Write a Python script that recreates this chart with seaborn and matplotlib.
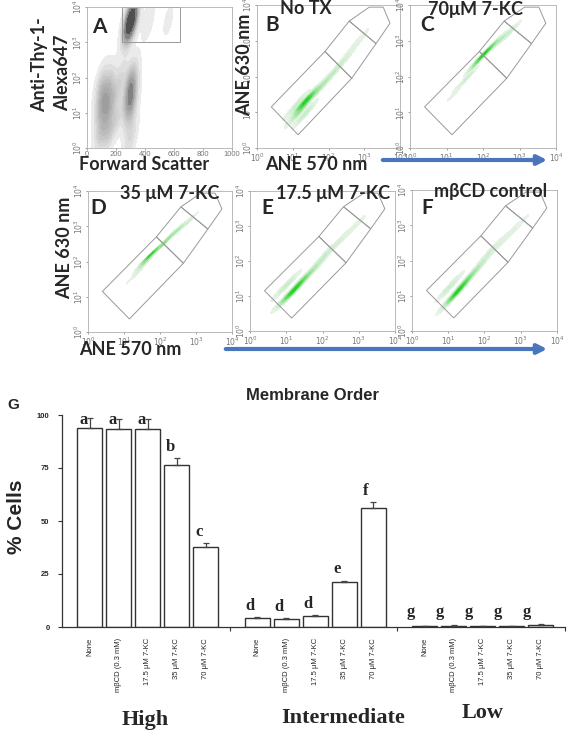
import numpy as np
import pandas as pd
import matplotlib
matplotlib.use('Agg')
import matplotlib.pyplot as plt
import seaborn as sns
from matplotlib.patches import Polygon, Rectangle, FancyArrowPatch
from matplotlib.ticker import FixedLocator, NullLocator

W, H = 567, 730

# ---- bar chart (panel G) ----
groups = ['High', 'Intermediate', 'Low']
treatments = ['None', 'mβCD (0.3 mM)', '17.5 μM 7-KC', '35 μM 7-KC', '70 μM 7-KC']
high_mean = [94.0, 93.5, 93.5, 76.2, 37.9]
high_err = [4.4, 4.6, 4.6, 3.5, 1.6]
inter_mean = [4.4, 3.8, 5.2, 21.1, 56.3]
inter_err = [0.4, 0.4, 0.3, 0.8, 2.5]
low_mean = [0.3, 0.7, 0.3, 0.4, 1.0]
low_err = [0.1, 0.2, 0.1, 0.1, 0.3]
high_letters = ['a', 'a', 'a', 'b', 'c']
inter_letters = ['d', 'd', 'd', 'e', 'f']
low_letters = ['g', 'g', 'g', 'g', 'g']

# ---- flow panels: hand-read event clusters (ANE 570, ANE 630, weight) ----
notx_x = [20, 16, 28, 13, 22, 35, 50, 70, 100, 150, 200, 300, 400, 600, 800]
notx_y = [18, 11, 25, 16, 9, 30, 40, 60, 90, 140, 200, 320, 500, 800, 1250]
notx_w = [10, 6, 5, 3, 3, 2.5, 2, 1.6, 1.4, 1.2, 1, 0.8, 0.6, 0.5, 0.4]

kc70_x = [89, 126, 63, 160, 200, 280, 355, 500, 631, 40, 25, 16]
kc70_y = [355, 501, 224, 630, 794, 1000, 1259, 1600, 1995, 100, 63, 32]
kc70_w = [10, 6, 5, 4, 3, 2.5, 2, 1.5, 1, 2, 1, 0.5]

kc35_x = [50, 40, 71, 100, 126, 160, 200, 280, 355, 500, 631, 32, 20]
kc35_y = [141, 100, 200, 250, 316, 420, 562, 700, 891, 1100, 1413, 71, 40]
kc35_w = [10, 6, 5, 3, 3, 3, 3, 2.5, 2, 1.5, 1, 2, 1]

kc17_x = [16, 11, 22, 10, 28, 40, 60, 79, 110, 158, 250, 398, 600, 891]
kc17_y = [14, 10, 22, 20, 28, 40, 60, 89, 140, 200, 320, 501, 750, 1122]
kc17_w = [10, 5, 5, 3, 3, 2, 1.8, 1.5, 1.2, 1, 0.8, 0.6, 0.5, 0.4]

mbcd_x = [18, 13, 25, 11, 30, 40, 60, 79, 110, 158, 250, 398, 600, 1000]
mbcd_y = [13, 9, 20, 18, 26, 35, 55, 79, 130, 200, 300, 447, 700, 1122]
mbcd_w = [10, 5, 5, 3, 3, 2.5, 2, 1.5, 1.2, 1, 0.8, 0.6, 0.5, 0.4]

# panel A: forward scatter vs anti-Thy-1
fsc_x = [300, 290, 320, 420, 560, 100, 100, 100, 150, 150, 150, 210, 210, 300, 300, 300, 300, 250]
thy_y = [4000, 3200, 5000, 4000, 4000, 3, 15, 60, 3, 15, 60, 8, 50, 30, 90, 10, 2, 150]
fsc_w = [9, 4, 3, 1, 0.6, 3, 4, 3, 3, 4, 3, 2, 2, 6, 4, 3, 2, 1]

# gates (log10 units)
gate_low = [(0.40, 1.15), (1.15, 0.37), (2.65, 1.95), (1.90, 2.70)]
gate_mid = [(1.90, 2.70), (2.65, 1.95), (3.33, 2.92), (2.58, 3.55)]
gate_high = [(2.58, 3.55), (3.33, 2.92), (3.72, 3.49), (3.53, 3.94), (3.14, 3.94)]

sns.set_style('ticks')
plt.rcParams['font.family'] = ['Liberation Sans', 'DejaVu Sans']

fig = plt.figure(figsize=(W / 100, H / 100), dpi=100)


def rect(l, t, r, b):
    return [l / W, 1 - b / H, (r - l) / W, (b - t) / H]


def ftext(px, py, s, **kw):
    fig.text(px / W, 1 - py / H, s, **kw)


lbl = dict(family=['Lato', 'DejaVu Sans'], weight='bold')
green = sns.light_palette('#1fcf1f', as_cmap=True)
grey = sns.light_palette('#303030', as_cmap=True)


def style_axes(ax, logx=True):
    if logx:
        ax.set_xlim(1, 1e4)
        ax.xaxis.set_major_locator(FixedLocator([1, 10, 100, 1000, 10000]))
        ax.set_xticklabels([r'$10^{%d}$' % i for i in range(5)])
    else:
        ax.set_xlim(0, 1000)
        ax.set_xticks([0, 200, 400, 600, 800, 1000])
    ax.set_ylim(1, 1e4)
    ax.yaxis.set_major_locator(FixedLocator([1, 10, 100, 1000, 10000]))
    ax.set_yticklabels([r'$10^{%d}$' % i for i in range(5)], rotation=90, va='center')
    ax.xaxis.set_minor_locator(NullLocator())
    ax.yaxis.set_minor_locator(NullLocator())
    ax.tick_params(labelsize=5.5, colors='#777777', length=1.5, width=0.5, pad=1)
    for s in ax.spines.values():
        s.set_color('#b0b0b0')
        s.set_linewidth(0.6)
    ax.set_xlabel('')
    ax.set_ylabel('')


def flow_panel(box, xs, ys, ws):
    ax = fig.add_axes(rect(*box))
    sns.kdeplot(x=xs, y=ys, weights=ws, fill=True, cmap=green, levels=14, thresh=0.02,
                bw_adjust=0.55, log_scale=True, ax=ax)
    for g in (gate_low, gate_mid, gate_high):
        pts = [(10 ** a, 10 ** b) for a, b in g]
        ax.add_patch(Polygon(pts, closed=True, fill=False, ec='#999999', lw=0.7))
    style_axes(ax)
    return ax


# panel A
axA = fig.add_axes(rect(87, 7, 232, 148))
sns.kdeplot(x=fsc_x, y=thy_y, weights=fsc_w, fill=True, cmap=grey, levels=12, thresh=0.03,
            bw_adjust=0.5, log_scale=(False, True), ax=axA)
axA.add_patch(Rectangle((240, 1000), 400, 9000, fill=False, ec='#999999', lw=0.7))
style_axes(axA, logx=False)

flow_panel((257, 5, 400, 148), notx_x, notx_y, notx_w)
flow_panel((410, 5, 556, 148), kc70_x, kc70_y, kc70_w)
flow_panel((88, 191, 232, 332), kc35_x, kc35_y, kc35_w)
flow_panel((250, 191, 395, 331), kc17_x, kc17_y, kc17_w)
flow_panel((412, 190, 557, 331), mbcd_x, mbcd_y, mbcd_w)

# flow labels
ftext(40, 65, 'Anti-Thy-1-', rotation=90, ha='center', va='center', size=13, **lbl)
ftext(63, 73, 'Alexa647', rotation=90, ha='center', va='center', size=13, **lbl)
ftext(144, 164, 'Forward Scatter', ha='center', va='center', size=13, **lbl)
ftext(245, 65, 'ANE 630 nm', rotation=90, ha='center', va='center', size=13, **lbl)
ftext(316, 164, 'ANE 570 nm', ha='center', va='center', size=13, **lbl)
ftext(65, 248, 'ANE 630 nm', rotation=90, ha='center', va='center', size=13, **lbl)
ftext(130, 350, 'ANE 570 nm', ha='center', va='center', size=13, **lbl)
ftext(306, 8, 'No TX', ha='center', va='center', size=13, **lbl)
ftext(476, 10, '70μM 7-KC', ha='center', va='center', size=13, **lbl)
ftext(170, 193, '35 μM 7-KC', ha='center', va='center', size=13, **lbl)
ftext(333, 193, '17.5 μM 7-KC', ha='center', va='center', size=13, **lbl)
ftext(491, 192, 'mβCD control', ha='center', va='center', size=13, **lbl)
for letter, (px, py) in zip('ABCDEF', [(99, 27), (272, 25), (427, 25), (98, 208), (267, 208), (427, 208)]):
    ftext(px, py, letter, ha='center', va='center', size=15, **lbl)

for (x0, x1, y) in [(380, 550, 160), (223, 550, 349)]:
    fig.add_artist(FancyArrowPatch((x0 / W, 1 - y / H), (x1 / W, 1 - y / H),
                                   transform=fig.transFigure, arrowstyle='-|>',
                                   mutation_scale=14, lw=3, color='#4a76be'))

# ---- panel G bar chart ----
GROUP_STEP = 5.78
rows = []
for gi, (m, e, l) in enumerate([(high_mean, high_err, high_letters),
                                 (inter_mean, inter_err, inter_letters),
                                 (low_mean, low_err, low_letters)]):
    for k, t in enumerate(treatments):
        rows.append(dict(group=groups[gi], treatment=t, pos=gi * GROUP_STEP + k,
                         mean=m[k], err=e[k], letter=l[k], gi=gi))
df = pd.DataFrame(rows)

axG = fig.add_axes(rect(62, 415, 565, 627))
sns.barplot(data=df, x='pos', y='mean', native_scale=True, color='white', saturation=1,
            edgecolor='#333333', linewidth=1.0, width=0.86, errorbar=None, ax=axG)
axG.errorbar(df['pos'], df['mean'], yerr=[np.zeros(len(df)), df['err']], fmt='none',
             ecolor='#444444', elinewidth=0.9, capsize=2.5, capthick=0.9, clip_on=False)
offsets = [-0.22, -0.25, -0.5]
for _, r in df.iterrows():
    y = min(max(r['mean'] + r['err'] + 1.5, 3.5), 94)
    axG.text(r['pos'] + offsets[r['gi']], y, r['letter'], ha='center', va='bottom',
             family=['Liberation Serif', 'DejaVu Serif'], weight='bold', size=12)

x_left = -0.95
axG.set_xlim(x_left, x_left + 3 * GROUP_STEP)
axG.set_ylim(0, 100)
axG.set_xticks(df['pos'])
axG.set_xticklabels(df['treatment'], rotation=90, va='top', ha='center', size=5.5)
axG.set_xticks([x_left + GROUP_STEP * (i + 1) for i in range(3)], minor=True)
axG.tick_params(axis='x', which='major', length=0, pad=8)
axG.tick_params(axis='x', which='minor', length=3, width=0.8, color='#333333')
axG.set_yticks([0, 25, 50, 75, 100])
axG.set_yticklabels(['0', '25', '50', '75', '100'], weight='bold', size=5.5)
axG.tick_params(axis='y', length=3, width=0.8, color='#333333', pad=6)
axG.set_xlabel('')
axG.set_ylabel('')
for s in ['top', 'right']:
    axG.spines[s].set_visible(False)
for s in ['left', 'bottom']:
    axG.spines[s].set_color('#333333')
    axG.spines[s].set_linewidth(0.9)

ftext(13, 405, 'G', ha='center', va='center', size=11, weight='bold')
ftext(313, 395, 'Membrane Order', ha='center', va='center', size=12, weight='bold')
ftext(17, 517, '% Cells', rotation=90, ha='center', va='center', size=15, weight='bold')
serif = dict(family=['Liberation Serif', 'DejaVu Serif'], weight='bold', size=16)
for name, px, py in [('High', 145, 720), ('Intermediate', 343, 718), ('Low', 483, 713)]:
    ftext(px, py, name, ha='center', va='center', **serif)

fig.savefig('out.png', dpi=100)
